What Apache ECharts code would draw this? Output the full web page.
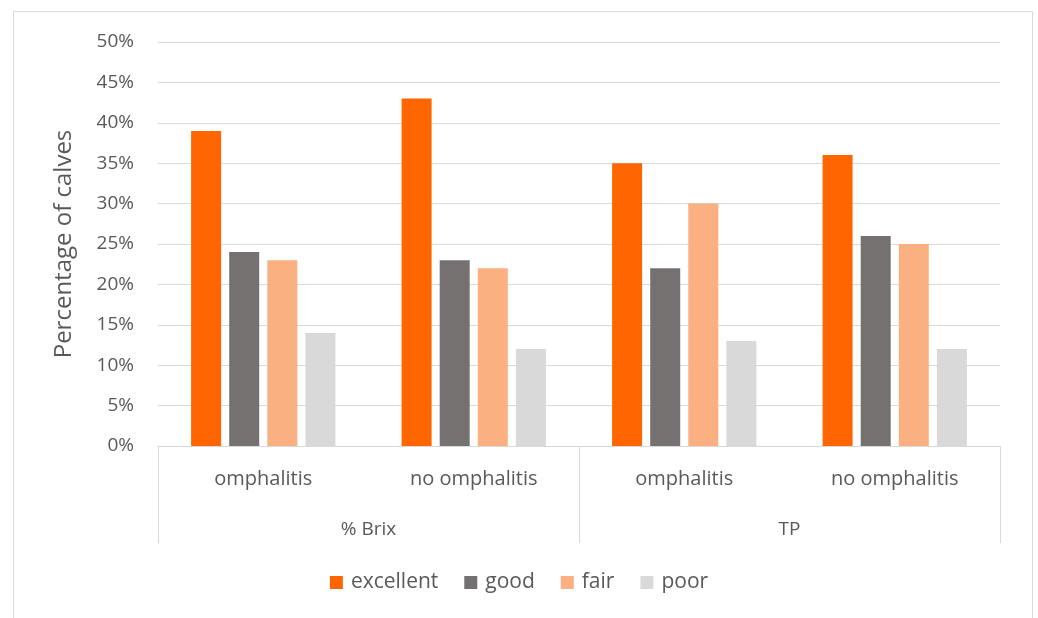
<!DOCTYPE html>
<html>
<head>
<meta charset="utf-8">
<script src="https://cdn.jsdelivr.net/npm/echarts@6/dist/echarts.min.js"></script>
<style>
  html, body { margin: 0; padding: 0; background: #fff; }
  #chart { width: 1038px; height: 618px; }
</style>
</head>
<body>
<div id="chart"></div>
<script>
var categories = ["omphalitis", "no omphalitis", "omphalitis", "no omphalitis"];
var groups = ["% Brix", "TP"];
var excellent = [39, 43, 35, 36];
var good = [24, 23, 22, 26];
var fair = [23, 22, 30, 25];
var poor = [14, 12, 13, 12];

var txt = "#595959";
var font = "Open Sans";

function bar(name, data, color) {
    return {
        name: name,
        type: "bar",
        xAxisIndex: 0,
        data: data,
        barWidth: 30,
        barGap: "27%",
        itemStyle: { color: color }
    };
}

var myChart = echarts.init(document.getElementById("chart"));
var option = {
    animation: false,
    textStyle: { fontFamily: font },
    graphic: [{
        type: "rect",
        shape: { x: 13.5, y: 11.5, width: 1019, height: 620 },
        style: { fill: "none", stroke: "#d9d9d9", lineWidth: 1 },
        silent: true
    }],
    grid: { left: 158, right: 38, top: 42, bottom: 172 },
    legend: {
        bottom: 20,
        left: "center",
        icon: "rect",
        itemWidth: 13,
        itemHeight: 13,
        itemGap: 26,
        textStyle: { color: txt, fontSize: 21, fontFamily: font, padding: [0, 0, 0, 3] },
        data: ["excellent", "good", "fair", "poor"]
    },
    xAxis: [{
        type: "category",
        data: categories,
        axisLine: { lineStyle: { color: "#d9d9d9" } },
        axisTick: { show: false },
        axisLabel: { color: txt, fontSize: 20, margin: 23 }
    }, {
        type: "category",
        data: groups,
        position: "bottom",
        axisLine: { show: false },
        axisTick: { show: true, length: 97, lineStyle: { color: "#d9d9d9" } },
        axisLabel: { color: txt, fontSize: 19, margin: 74 }
    }],
    yAxis: {
        type: "value",
        min: 0,
        max: 50,
        interval: 5,
        name: "Percentage of calves",
        nameLocation: "middle",
        nameGap: 82,
        nameTextStyle: { color: txt, fontSize: 24, fontFamily: font },
        axisLine: { show: false },
        axisTick: { show: false },
        axisLabel: { color: txt, fontSize: 19, margin: 24, formatter: "{value}%" },
        splitLine: { lineStyle: { color: "#d9d9d9" } }
    },
    series: [
        bar("excellent", excellent, "#ff6600"),
        bar("good", good, "#767171"),
        bar("fair", fair, "#fbb081"),
        bar("poor", poor, "#d9d9d9")
    ]
};
myChart.setOption(option);
</script>
</body>
</html>
